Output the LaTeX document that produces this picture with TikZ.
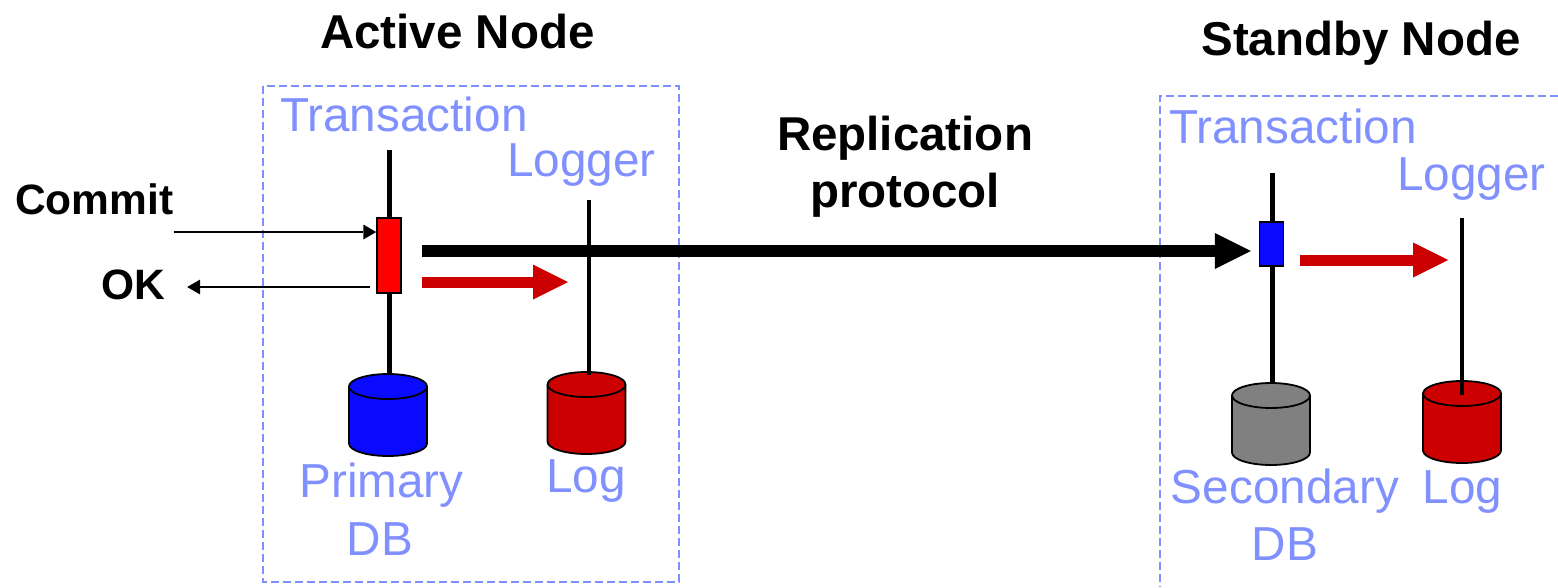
\documentclass[tikz,border=0pt]{standalone}
\usepackage{fontspec}
\setmainfont{Liberation Sans}
\usepackage{tikz}
\usetikzlibrary{arrows.meta}
\definecolor{lblue}{RGB}{128,144,255}
\definecolor{dbblue}{RGB}{10,10,255}
\definecolor{logred}{RGB}{204,0,0}
\definecolor{dbgray}{RGB}{128,128,128}
\newcommand{\disk}[4]{%
  \filldraw[diskline,fill=#4] (#2-39,#3) -- ++(0,57)
    arc[start angle=180,end angle=360,x radius=39pt,y radius=12.5pt] -- ++(0,-57)
    arc[start angle=0,end angle=180,x radius=39pt,y radius=12.5pt] -- cycle;
  \draw[diskline] (#2-39,#3) arc[start angle=180,end angle=360,x radius=39pt,y radius=12.5pt];
  \coordinate (#1) at (#2,#3-12.5);}

\begin{document}
\begin{tikzpicture}[x=1pt,y=-1pt,
  title/.style={font=\fontsize{47.5}{57}\selectfont\bfseries,inner sep=0pt,anchor=base},
  msg/.style={font=\fontsize{42.5}{51}\selectfont\bfseries,inner sep=0pt,anchor=base west},
  lbl/.style={font=\fontsize{47.7}{57}\selectfont,text=lblue,inner sep=0pt,anchor=base},
  nodebox/.style={draw=lblue,line width=1.8pt,dash pattern=on 8pt off 4pt},
  stem/.style={line width=4.5pt},
  txn/.style={draw,line width=1.5pt,inner sep=0pt,minimum width=24pt},
  diskline/.style={line width=1.8pt},
  callarrow/.style={line width=1.8pt,-{Triangle[length=13pt,width=15pt,line width=0pt]}},
  bigarrow/.style={line width=12pt,-{Triangle[length=36pt,width=36pt,line width=0pt]}},
  logarrow/.style={color=logred,line width=11pt,-{Triangle[length=35pt,width=35pt,line width=0pt]}}
]
  \useasboundingbox (0,0) rectangle (1558,587);
  \draw[nodebox] (263,86) rectangle (679,582);
  \draw[nodebox] (1558,96) -| (1160,587);

  \node[title] (actT) at (457.5,48)  {Active Node};
  \node[title] (stbT) at (1361,55)   {Standby Node};
  \node[title] (rep)  at (905,150)   {Replication};
  \node[title] (prot) at (905,207)   {protocol};
  \node[msg]   (commit) at (15,214)  {Commit};
  \node[msg]   (ok)     at (101,299) {OK};

  \node[lbl,anchor=base west] (txAl) at (280,131)  {Transaction};
  \node[lbl,anchor=base west] (lgAl) at (507,176)  {Logger};
  \node[lbl] (dbAl)  at (381.5,497) {Primary};
  \node[lbl] (dbAl2) at (380,555)   {DB};
  \node[lbl] (logAl) at (586,492)   {Log};
  \node[lbl,anchor=base west] (txBl) at (1169,143) {Transaction};
  \node[lbl,anchor=base west] (lgBl) at (1397,190) {Logger};
  \node[lbl] (dbBl)  at (1285,503)  {Secondary};
  \node[lbl] (dbBl2) at (1285,560)  {DB};
  \node[lbl] (logBl) at (1462.5,503) {Log};

  \coordinate (tA) at (389.5,150);
  \coordinate (lA) at (589,200);
  \coordinate (tB) at (1272.5,173);
  \coordinate (lB) at (1462,218);
  \disk{dbA}{388}{386.5}{dbblue}
  \disk{logA}{586.5}{384.5}{logred}
  \disk{dbB}{1271}{395.5}{dbgray}
  \disk{logB}{1462}{393.5}{logred}

  \draw[stem] (tA) -- (tA |- dbA);
  \draw[stem] (lA) -- ([yshift=-3pt]lA |- logA);
  \draw[stem] (tB) -- (tB |- dbB);
  \draw[stem] (lB) -- ([yshift=-14pt]lB |- logB);
  \node[txn,fill=red,minimum height=75pt]    (ta) at (389,255.5) {};
  \node[txn,fill=dbblue,minimum height=44pt] (tb) at (1271.5,244) {};

  \coordinate (ci) at ([yshift=23.5pt]ta.west);
  \coordinate (oo) at ([shift={(-6,31.5)}]ta.west);
  \coordinate (rs) at ([shift={(20,-4.5)}]ta.east);
  \coordinate (ra) at ([shift={(20,26.5)}]ta.east);
  \coordinate (rb) at ([shift={(16,16)}]tb.east);
  \draw[callarrow] (commit.east |- ci) -- (ci);
  \draw[callarrow] (oo) -- ([xshift=22pt]ok.east |- oo);
  \draw[bigarrow] (rs) -- ([xshift=-8pt]rs -| tb.west);
  \draw[logarrow] (ra) -- ([xshift=-21pt]ra -| lA);
  \draw[logarrow] (rb) -- ([xshift=-14pt]rb -| lB);
\end{tikzpicture}
\end{document}
